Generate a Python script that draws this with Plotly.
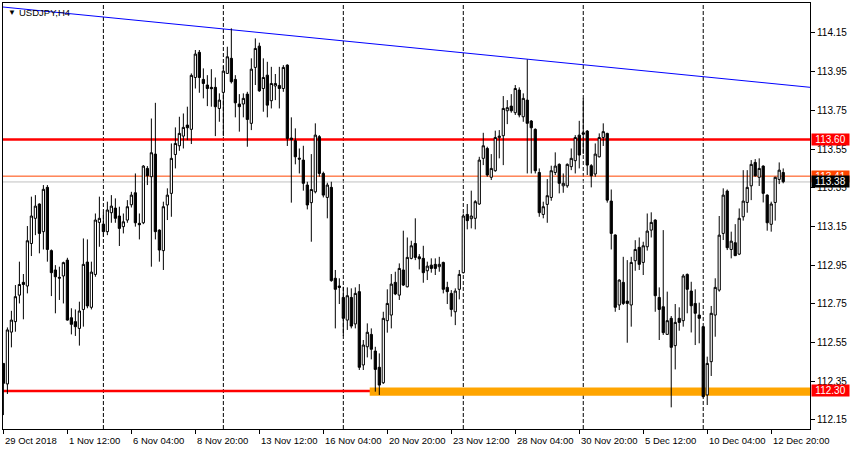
import plotly.graph_objects as go

# ---------------- data (USDJPY, H4) ----------------
bars = list(range(196))

opens = [112.442,112.336,112.604,112.658,112.795,112.861,112.842,113.062,113.192,113.266,
         113.123,113.352,113.025,112.925,112.887,112.894,112.976,112.678,112.658,112.623,
         112.721,112.966,112.732,112.902,113.171,113.162,113.123,113.221,113.245,113.204,
         113.149,113.183,113.262,113.324,113.166,113.169,113.450,113.407,113.524,113.131,
         113.025,113.261,113.321,113.522,113.567,113.617,113.674,113.652,113.920,114.050,
         113.910,113.881,113.869,113.869,113.760,113.843,113.941,114.019,113.910,113.783,
         113.783,113.834,113.683,113.972,114.082,113.863,113.932,113.800,113.876,113.879,
         113.863,113.984,113.607,113.593,113.503,113.493,113.364,113.273,113.329,113.614,
         113.424,113.300,113.352,112.882,112.842,112.783,112.666,112.783,112.646,112.813,
         112.434,112.528,112.592,112.506,112.422,112.342,112.663,112.692,112.861,112.795,
         112.925,112.838,112.985,113.062,112.993,112.985,112.921,112.950,112.954,112.942,
         112.964,112.835,112.804,112.709,112.825,112.911,113.212,113.190,113.192,113.266,
         113.502,113.553,113.404,113.438,113.609,113.619,113.748,113.772,113.738,113.855,
         113.717,113.803,113.695,113.652,113.429,113.212,113.264,113.300,113.429,113.471,
         113.360,113.360,113.459,113.490,113.622,113.634,113.643,113.464,113.421,113.510,
         113.610,113.631,113.281,113.106,112.744,112.861,112.764,112.744,112.973,113.042,
         112.964,113.045,113.131,113.183,112.783,112.735,112.592,112.675,112.534,112.675,
         112.663,112.902,112.816,112.752,112.692,112.632,112.279,112.451,112.692,112.821,
         113.114,113.333,113.031,113.066,113.007,113.200,113.274,113.360,113.481,113.404,
         113.462,113.312,113.161,113.274,113.393,113.429]

highs = [112.442,112.628,112.714,112.847,112.968,112.904,113.152,113.304,113.312,113.269,
         113.364,113.364,113.031,112.950,112.942,112.968,112.988,112.727,112.721,112.761,
         113.088,113.083,112.968,113.217,113.304,113.221,113.278,113.312,113.295,113.252,
         113.217,113.286,113.329,113.424,113.217,113.467,113.462,113.708,113.789,113.135,
         113.278,113.347,113.579,113.662,113.717,113.734,113.769,113.941,114.062,114.062,
         113.967,113.932,113.963,113.920,113.838,113.979,114.079,114.174,113.932,113.834,
         113.838,113.846,114.019,114.122,114.100,114.019,114.001,113.975,113.938,113.975,
         113.984,113.988,113.714,113.657,113.553,113.567,113.381,113.524,113.683,113.622,
         113.433,113.376,113.381,112.925,112.882,112.838,112.835,112.830,112.835,112.852,
         112.563,112.649,112.623,112.528,112.494,112.709,112.825,112.904,112.916,112.959,
         113.128,113.093,113.076,113.192,113.007,113.050,112.968,112.985,112.985,112.993,
         112.968,112.864,112.821,112.830,112.925,113.217,113.266,113.335,113.286,113.510,
         113.634,113.562,113.524,113.645,113.648,113.824,113.803,113.834,113.881,113.869,
         113.838,114.013,113.700,113.657,113.450,113.278,113.395,113.464,113.533,113.476,
         113.424,113.476,113.553,113.622,113.696,113.812,113.648,113.472,113.579,113.631,
         113.683,113.634,113.341,113.109,112.876,112.993,112.976,112.993,113.079,113.093,
         113.071,113.217,113.223,113.187,112.835,113.131,112.813,112.687,112.749,112.732,
         112.904,112.907,112.864,112.825,112.756,112.635,112.477,112.739,112.882,113.204,
         113.347,113.341,113.123,113.162,113.243,113.441,113.441,113.493,113.498,113.502,
         113.466,113.316,113.278,113.407,113.481,113.450]

lows = [112.175,112.284,112.525,112.606,112.752,112.670,112.804,112.997,113.105,113.011,
        113.031,112.968,112.790,112.701,112.770,112.752,112.663,112.592,112.584,112.534,
        112.632,112.727,112.721,112.890,113.045,113.097,113.105,113.169,113.169,113.049,
        113.114,113.169,113.248,113.149,113.083,113.162,113.364,112.942,113.083,112.968,
        112.925,113.183,113.200,113.450,113.541,113.553,113.596,113.576,113.863,113.841,
        113.812,113.772,113.769,113.617,113.691,113.617,113.938,113.889,113.714,113.640,
        113.714,113.562,113.648,113.881,113.846,113.743,113.714,113.760,113.803,113.760,
        113.846,113.566,113.273,113.471,113.424,113.335,113.238,113.071,113.321,113.407,
        113.300,113.192,112.864,112.623,112.749,112.584,112.615,112.623,112.623,112.408,
        112.408,112.473,112.463,112.296,112.279,112.336,112.601,112.623,112.795,112.770,
        112.842,112.835,112.980,112.976,112.928,112.859,112.873,112.911,112.899,112.916,
        112.804,112.749,112.684,112.640,112.773,112.907,113.135,113.140,113.135,113.262,
        113.467,113.407,113.390,113.433,113.502,113.467,113.679,113.738,113.726,113.714,
        113.691,113.424,113.424,113.424,113.200,113.192,113.169,113.283,113.416,113.321,
        113.324,113.350,113.441,113.424,113.450,113.524,113.416,113.352,113.407,113.507,
        113.566,113.273,113.031,112.709,112.718,112.744,112.549,112.632,112.921,112.925,
        112.899,113.025,113.093,112.709,112.563,112.589,112.589,112.215,112.411,112.611,
        112.632,112.701,112.602,112.537,112.546,112.267,112.227,112.377,112.580,112.813,
        113.080,113.028,112.985,112.997,113.002,113.180,113.221,113.286,113.407,113.359,
        113.274,113.128,113.123,113.180,113.369,113.373]

closes = [112.339,112.615,112.666,112.787,112.850,112.850,113.076,113.204,113.255,113.114,
          113.342,113.031,112.911,112.890,112.883,112.963,112.666,112.644,112.632,112.713,
          112.954,112.739,112.914,113.183,113.192,113.123,113.235,113.255,113.192,113.140,
          113.174,113.252,113.312,113.169,113.159,113.462,113.412,113.531,113.123,113.028,
          113.252,113.312,113.502,113.579,113.631,113.662,113.660,113.931,114.041,113.920,
          113.889,113.863,113.862,113.769,113.803,113.953,114.027,113.898,113.789,113.769,
          113.812,113.703,113.963,114.070,113.851,113.920,113.777,113.889,113.889,113.863,
          113.972,113.605,113.600,113.510,113.498,113.373,113.261,113.341,113.622,113.424,
          113.312,113.364,112.870,112.825,112.835,112.675,112.792,112.635,112.804,112.422,
          112.537,112.603,112.515,112.411,112.330,112.675,112.752,112.852,112.801,112.933,
          112.847,112.990,113.050,112.990,112.983,112.911,112.945,112.933,112.933,112.954,
          112.825,112.813,112.721,112.816,112.902,113.204,113.180,113.204,113.278,113.493,
          113.567,113.416,113.450,113.610,113.617,113.760,113.764,113.748,113.863,113.726,
          113.812,113.683,113.660,113.438,113.221,113.252,113.309,113.438,113.462,113.373,
          113.373,113.471,113.502,113.610,113.519,113.627,113.467,113.412,113.524,113.610,
          113.640,113.286,113.114,112.732,112.873,112.752,112.752,112.964,113.031,112.954,
          113.050,113.126,113.171,112.792,112.721,112.601,112.663,112.525,112.654,112.654,
          112.894,112.825,112.740,112.701,112.675,112.270,112.442,112.701,112.835,113.105,
          113.312,113.040,113.074,112.999,113.192,113.281,113.352,113.471,113.412,113.450,
          113.321,113.169,113.266,113.404,113.441,113.381]

# time-axis labels and the bars they belong to
label_bars = [0, 16, 32, 48, 64, 80, 96, 112, 128, 144, 160, 176, 192]
label_texts = ["29 Oct 2018", "1 Nov 12:00", "6 Nov 04:00", "8 Nov 20:00",
               "13 Nov 12:00", "16 Nov 04:00", "20 Nov 20:00", "23 Nov 12:00",
               "28 Nov 04:00", "30 Nov 20:00", "5 Dec 12:00", "10 Dec 04:00",
               "12 Dec 20:00"]
week_start_bars = [25, 55, 85, 115, 145, 175]

price_ticks = [112.15, 112.35, 112.55, 112.75, 112.95, 113.15, 113.35,
               113.55, 113.75, 113.95, 114.15]

resistance = 113.60
support = 112.30
support_zone = (112.275, 112.317)
support_zone_start_bar = 91.6
ask_price = 113.41
bid_price = 113.38
trend_bars = (0, 195)
trend_prices = (114.284, 113.883)

# ---------------- figure ----------------
X_MIN, X_MAX = -0.1, 201.7
Y_MIN, Y_MAX = 112.103, 114.305
FONT = "Liberation Sans, Arial, sans-serif"

fig = go.Figure()
fig.add_trace(go.Candlestick(
    x=bars, open=opens, high=highs, low=lows, close=closes,
    increasing=dict(line=dict(color="black", width=1), fillcolor="white"),
    decreasing=dict(line=dict(color="black", width=1), fillcolor="black"),
    whiskerwidth=0, hoverinfo="skip",
))

shapes = []
# support zone band
shapes.append(dict(type="rect", xref="x", yref="y", x0=support_zone_start_bar, x1=X_MAX,
                   y0=support_zone[0], y1=support_zone[1], fillcolor="#FFA500",
                   line=dict(width=0), layer="below"))
# weekly separators
for b in week_start_bars:
    shapes.append(dict(type="line", xref="x", yref="paper", x0=b, x1=b, y0=0, y1=1,
                       line=dict(color="black", width=1, dash="4px,2px"), layer="below"))
# ask / bid lines
shapes.append(dict(type="line", xref="paper", yref="y", x0=0, x1=1, y0=ask_price, y1=ask_price,
                   line=dict(color="#FF4500", width=1), layer="below"))
shapes.append(dict(type="line", xref="paper", yref="y", x0=0, x1=1, y0=bid_price, y1=bid_price,
                   line=dict(color="#C0C0C0", width=1), layer="below"))
# horizontal levels
for lvl in (resistance, support):
    shapes.append(dict(type="line", xref="paper", yref="y", x0=0, x1=1, y0=lvl, y1=lvl,
                       line=dict(color="#FF0000", width=2.5), layer="below"))
# trend line, extended across the chart
slope = (trend_prices[1] - trend_prices[0]) / (trend_bars[1] - trend_bars[0])
shapes.append(dict(type="line", xref="x", yref="y",
                   x0=X_MIN, y0=trend_prices[0] + slope * (X_MIN - trend_bars[0]),
                   x1=X_MAX, y1=trend_prices[0] + slope * (X_MAX - trend_bars[0]),
                   line=dict(color="#0000FF", width=1), layer="below"))

annotations = []
for b, t in zip(label_bars, label_texts):
    annotations.append(dict(x=b, y=0, xref="x", yref="paper", text=t, showarrow=False,
                            xanchor="left", yanchor="top", xshift=0, yshift=-4,
                            font=dict(family=FONT, size=9.5, color="black")))
# price boxes on the right
for p, bg in ((resistance, "#FF0000"), (ask_price, "#FF4500"), (bid_price, "#000000"),
              (support, "#FF0000")):
    annotations.append(dict(x=1, y=p, xref="paper", yref="y", text=f"{p:.2f}",
                            showarrow=False, xanchor="left", yanchor="middle", xshift=1,
                            width=35, height=9, align="center", valign="middle",
                            bgcolor=bg, borderpad=1,
                            font=dict(family=FONT, size=10, color="white")))
# title
annotations.append(dict(x=0, y=1, xref="paper", yref="paper", text="▼", showarrow=False,
                        xanchor="left", yanchor="top", xshift=3, yshift=-3,
                        font=dict(family=FONT, size=8, color="black")))
annotations.append(dict(x=0, y=1, xref="paper", yref="paper", text="USDJPY,H4",
                        showarrow=False, xanchor="left", yanchor="top", xshift=14, yshift=-2,
                        font=dict(family=FONT, size=9.5, color="black")))

fig.update_layout(
    width=850, height=450,
    margin=dict(l=3, r=40, t=3, b=21, pad=0),
    paper_bgcolor="white", plot_bgcolor="white",
    showlegend=False,
    boxgap=0.2,
    font=dict(family=FONT, size=9.5, color="black"),
    shapes=shapes, annotations=annotations,
    xaxis=dict(range=[X_MIN, X_MAX], showgrid=False, zeroline=False, showline=True,
               mirror=True, linecolor="black", linewidth=1, ticks="outside", ticklen=4,
               tickcolor="black", tickvals=label_bars, ticktext=[""] * len(label_bars),
               rangeslider=dict(visible=False), fixedrange=True),
    yaxis=dict(range=[Y_MIN, Y_MAX], side="right", showgrid=False, zeroline=False,
               showline=True, mirror=True, linecolor="black", linewidth=1,
               ticks="outside", ticklen=4, tickcolor="black",
               tickvals=price_ticks, ticktext=[f"{v:.2f}" for v in price_ticks],
               tickfont=dict(family=FONT, size=10, color="black"), fixedrange=True),
)

fig.write_html("out.html", config={"displayModeBar": False},
               post_script="document.body.style.margin='0';document.body.style.overflow='hidden';")
